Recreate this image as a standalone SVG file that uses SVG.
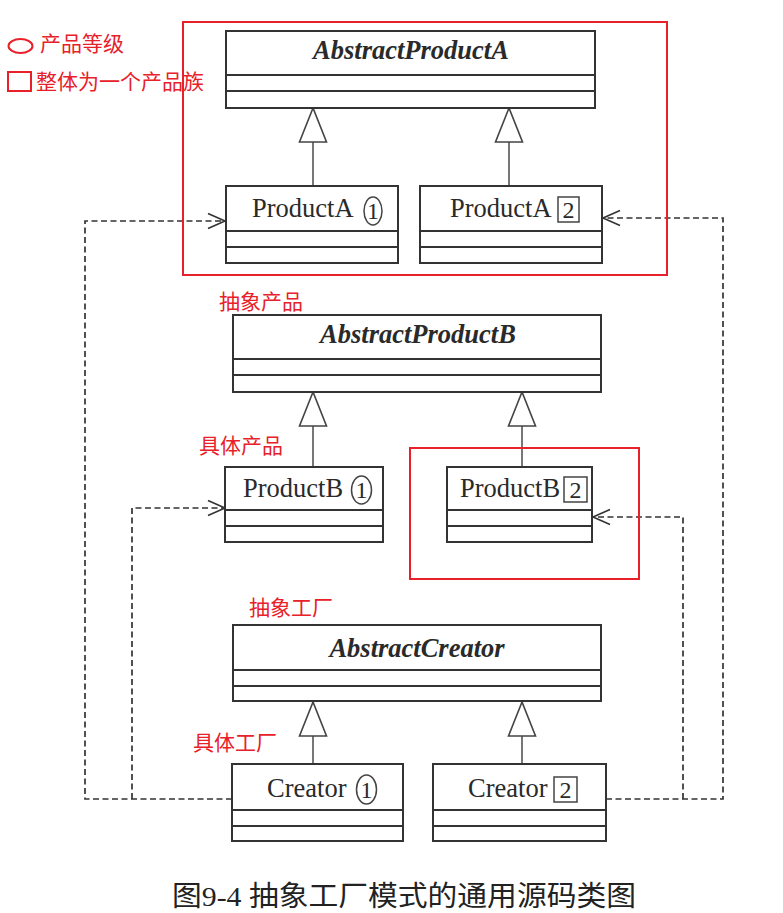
<svg xmlns="http://www.w3.org/2000/svg" width="783" height="913" viewBox="0 0 783 913">
<style>
.box{fill:#fff;stroke:#333;stroke-width:2}
.div{stroke:#333;stroke-width:2}
.abs{font-family:"Liberation Serif",serif;font-style:italic;font-weight:bold;font-size:26.5px;fill:#2a2a2a;text-anchor:middle}
.cls{font-family:"Liberation Serif",serif;font-size:26.5px;fill:#2a2a2a}
.num{font-family:"Liberation Serif",serif;font-size:24px;fill:#2a2a2a;text-anchor:middle}
.mark{fill:none;stroke:#444;stroke-width:1.5}
.inh{stroke:#555;stroke-width:1.6;fill:none}
.tri{fill:#fff;stroke:#444;stroke-width:1.6}
.dep{fill:none;stroke:#333;stroke-width:1.7;stroke-dasharray:6,3.5}
.head{fill:none;stroke:#333;stroke-width:1.6}
.red{fill:none;stroke:#e8202a;stroke-width:2}
.rtxt{font-family:"Noto Sans CJK SC",sans-serif;font-size:21px;fill:#e8202a}
.cap{font-family:"Liberation Serif","Noto Sans CJK SC",serif;font-size:28px;fill:#222}
</style>
<rect width="783" height="913" fill="#fff"/>

<g id="legend">
<ellipse cx="20.5" cy="46" rx="12" ry="7" class="red"/>
<text x="40" y="51" class="rtxt">产品等级</text>
<rect x="8" y="72" width="23" height="19" class="red"/>
<text x="36" y="89" class="rtxt">整体为一个产品族</text>
</g>

<g id="connectors">
<line x1="313" y1="142" x2="313" y2="186" class="inh"/>
<polygon points="313,108 299.5,142 326.5,142" class="tri"/>
<line x1="509" y1="142" x2="509" y2="186" class="inh"/>
<polygon points="509,108 495.5,142 522.5,142" class="tri"/>
<line x1="313" y1="426" x2="313" y2="467" class="inh"/>
<polygon points="313,392 299.5,426 326.5,426" class="tri"/>
<line x1="522" y1="426" x2="522" y2="467" class="inh"/>
<polygon points="522,392 508.5,426 535.5,426" class="tri"/>
<line x1="313" y1="736" x2="313" y2="764" class="inh"/>
<polygon points="313,702 299.5,736 326.5,736" class="tri"/>
<line x1="522" y1="736" x2="522" y2="764" class="inh"/>
<polygon points="522,702 508.5,736 535.5,736" class="tri"/>
<polyline points="232,799 85,799 85,221 225,221" class="dep"/>
<polyline points="208,213.5 225,221 208,228.5" class="head"/>
<polyline points="132,799 132,508 225,508" class="dep"/>
<polyline points="208,500.5 225,508 208,515.5" class="head"/>
<polyline points="606,799 723,799 723,218 603,218" class="dep"/>
<polyline points="620,210.5 603,218 620,225.5" class="head"/>
<polyline points="683,799 683,517 593,517" class="dep"/>
<polyline points="610,509.5 593,517 610,524.5" class="head"/>
</g>

<g id="AbstractProductA">
<rect x="226" y="31" width="369" height="77" class="box"/>
<line x1="226" y1="75" x2="595" y2="75" class="div"/>
<line x1="226" y1="91" x2="595" y2="91" class="div"/>
<text x="411" y="59" class="abs">AbstractProductA</text>
</g>

<g id="ProductA1">
<rect x="226" y="186" width="172" height="77" class="box"/>
<line x1="226" y1="231" x2="398" y2="231" class="div"/>
<line x1="226" y1="247" x2="398" y2="247" class="div"/>
<text x="252" y="217" class="cls">ProductA</text>
<ellipse cx="373" cy="211" rx="9" ry="14" class="mark"/>
<text x="373" y="219" class="num">1</text>
</g>

<g id="ProductA2">
<rect x="420" y="186" width="182" height="77" class="box"/>
<line x1="420" y1="231" x2="602" y2="231" class="div"/>
<line x1="420" y1="247" x2="602" y2="247" class="div"/>
<text x="450" y="217" class="cls">ProductA</text>
<rect x="558" y="197" width="21" height="25" class="mark"/>
<text x="568.5" y="218" class="num">2</text>
</g>

<g id="AbstractProductB">
<rect x="233" y="315" width="368" height="77" class="box"/>
<line x1="233" y1="359" x2="601" y2="359" class="div"/>
<line x1="233" y1="375" x2="601" y2="375" class="div"/>
<text x="418" y="343" class="abs">AbstractProductB</text>
</g>

<g id="ProductB1">
<rect x="225" y="467" width="158" height="75" class="box"/>
<line x1="225" y1="510" x2="383" y2="510" class="div"/>
<line x1="225" y1="526" x2="383" y2="526" class="div"/>
<text x="243" y="497" class="cls">ProductB</text>
<ellipse cx="361.5" cy="490" rx="10" ry="14" class="mark"/>
<text x="361.5" y="498" class="num">1</text>
</g>

<g id="ProductB2">
<rect x="447" y="467" width="145" height="75" class="box"/>
<line x1="447" y1="510" x2="592" y2="510" class="div"/>
<line x1="447" y1="526" x2="592" y2="526" class="div"/>
<text x="460" y="497" class="cls">ProductB</text>
<rect x="564" y="477" width="23" height="25" class="mark"/>
<text x="575.5" y="498" class="num">2</text>
</g>

<g id="AbstractCreator">
<rect x="233" y="625" width="368" height="76" class="box"/>
<line x1="233" y1="670" x2="601" y2="670" class="div"/>
<line x1="233" y1="686" x2="601" y2="686" class="div"/>
<text x="417" y="657" class="abs">AbstractCreator</text>
</g>

<g id="Creator1">
<rect x="232" y="764" width="171" height="77" class="box"/>
<line x1="232" y1="810" x2="403" y2="810" class="div"/>
<line x1="232" y1="826" x2="403" y2="826" class="div"/>
<text x="267" y="797" class="cls">Creator</text>
<ellipse cx="366.5" cy="789.5" rx="10" ry="14.5" class="mark"/>
<text x="366.5" y="798" class="num">1</text>
</g>

<g id="Creator2">
<rect x="433" y="764" width="173" height="77" class="box"/>
<line x1="433" y1="810" x2="606" y2="810" class="div"/>
<line x1="433" y1="826" x2="606" y2="826" class="div"/>
<text x="468" y="797" class="cls">Creator</text>
<rect x="554" y="777" width="23" height="25" class="mark"/>
<text x="565.5" y="798" class="num">2</text>
</g>

<g id="annotations">
<rect x="183" y="22" width="484" height="253" class="red"/>
<rect x="410" y="448" width="229" height="131" class="red"/>
<text x="219" y="309" class="rtxt">抽象产品</text>
<text x="199" y="453" class="rtxt">具体产品</text>
<text x="249" y="615" class="rtxt">抽象工厂</text>
<text x="193" y="750" class="rtxt">具体工厂</text>
</g>

<g id="caption">
<text x="172" y="906" class="cap" textLength="464" lengthAdjust="spacingAndGlyphs">图9-4 抽象工厂模式的通用源码类图</text>
</g>
</svg>
